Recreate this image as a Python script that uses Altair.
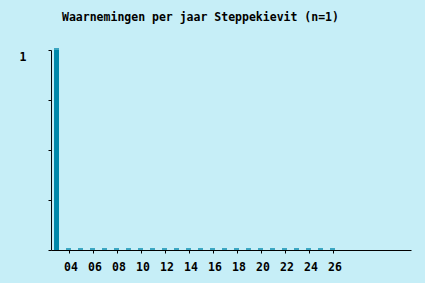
import altair as alt
import pandas as pd

years = list(range(2003, 2027))
counts = [1] + [0] * 23
title_text = "Waarnemingen per jaar Steppekievit (n=1)"
x_tick_years = list(range(2004, 2027, 2))
y_tick_values = [0, 0.25, 0.5, 0.75, 1]

df = pd.DataFrame({"jaar": years, "aantal": counts})

FONT = "DejaVu Sans Mono"
BAR = "#0088AA"

x_scale = alt.Scale(domain=[2002.54, 2032.54], nice=False, zero=False, padding=0)
y_scale = alt.Scale(domain=[0, 1], nice=False, padding=0)

x_axis = alt.Axis(
    values=x_tick_years,
    labelExpr="substring(toString(datum.value), 2)",
    title=None,
    grid=False,
    tickSize=3,
    tickColor="black",
    domainColor="black",
    labelFont=FONT,
    labelFontSize=11.5,
    labelFontWeight="bold",
    labelColor="black",
    labelPadding=8,
    labelOffset=2,
    labelFlush=False,
    labelOverlap=False,
    labelBound=False,
)

y_axis = alt.Axis(
    values=y_tick_values,
    labelExpr="datum.value == 1 ? '1' : ''",
    title=None,
    grid=False,
    tickSize=3,
    tickColor="black",
    domainColor="black",
    labelFont=FONT,
    labelFontSize=11.5,
    labelFontWeight="bold",
    labelColor="black",
    labelPadding=22,
    labelBaseline="middle",
    labelOffset=7,
    labelFlush=False,
    labelOverlap=False,
)

bars = alt.Chart(df).mark_bar(color=BAR, size=5).encode(
    x=alt.X("jaar:Q", scale=x_scale, axis=x_axis),
    y=alt.Y("aantal:Q", scale=y_scale, axis=y_axis),
)

dashes = alt.Chart(df).mark_tick(color=BAR, size=5, thickness=2, orient="horizontal", yOffset=-1).encode(
    x=alt.X("jaar:Q", scale=x_scale, axis=x_axis),
    y=alt.Y("aantal:Q", scale=y_scale, axis=y_axis),
)

chart = (
    alt.layer(bars, dashes)
    .properties(
        width=360,
        height=200,
        title=alt.TitleParams(
            title_text,
            anchor="start",
            frame="group",
            dx=11,
            font=FONT,
            fontSize=11.5,
            fontWeight="bold",
            color="black",
            baseline="alphabetic",
            offset=16,
        ),
        autosize=alt.AutoSizeParams(type="none"),
        padding={"left": 51, "top": 50, "right": 14, "bottom": 33},
        background="#C6EEF7",
    )
    .configure_view(stroke=None)
    .configure_axis(labelOverlap=False)
)

chart.save("out.html", embed_options={"renderer": "svg", "actions": False})
